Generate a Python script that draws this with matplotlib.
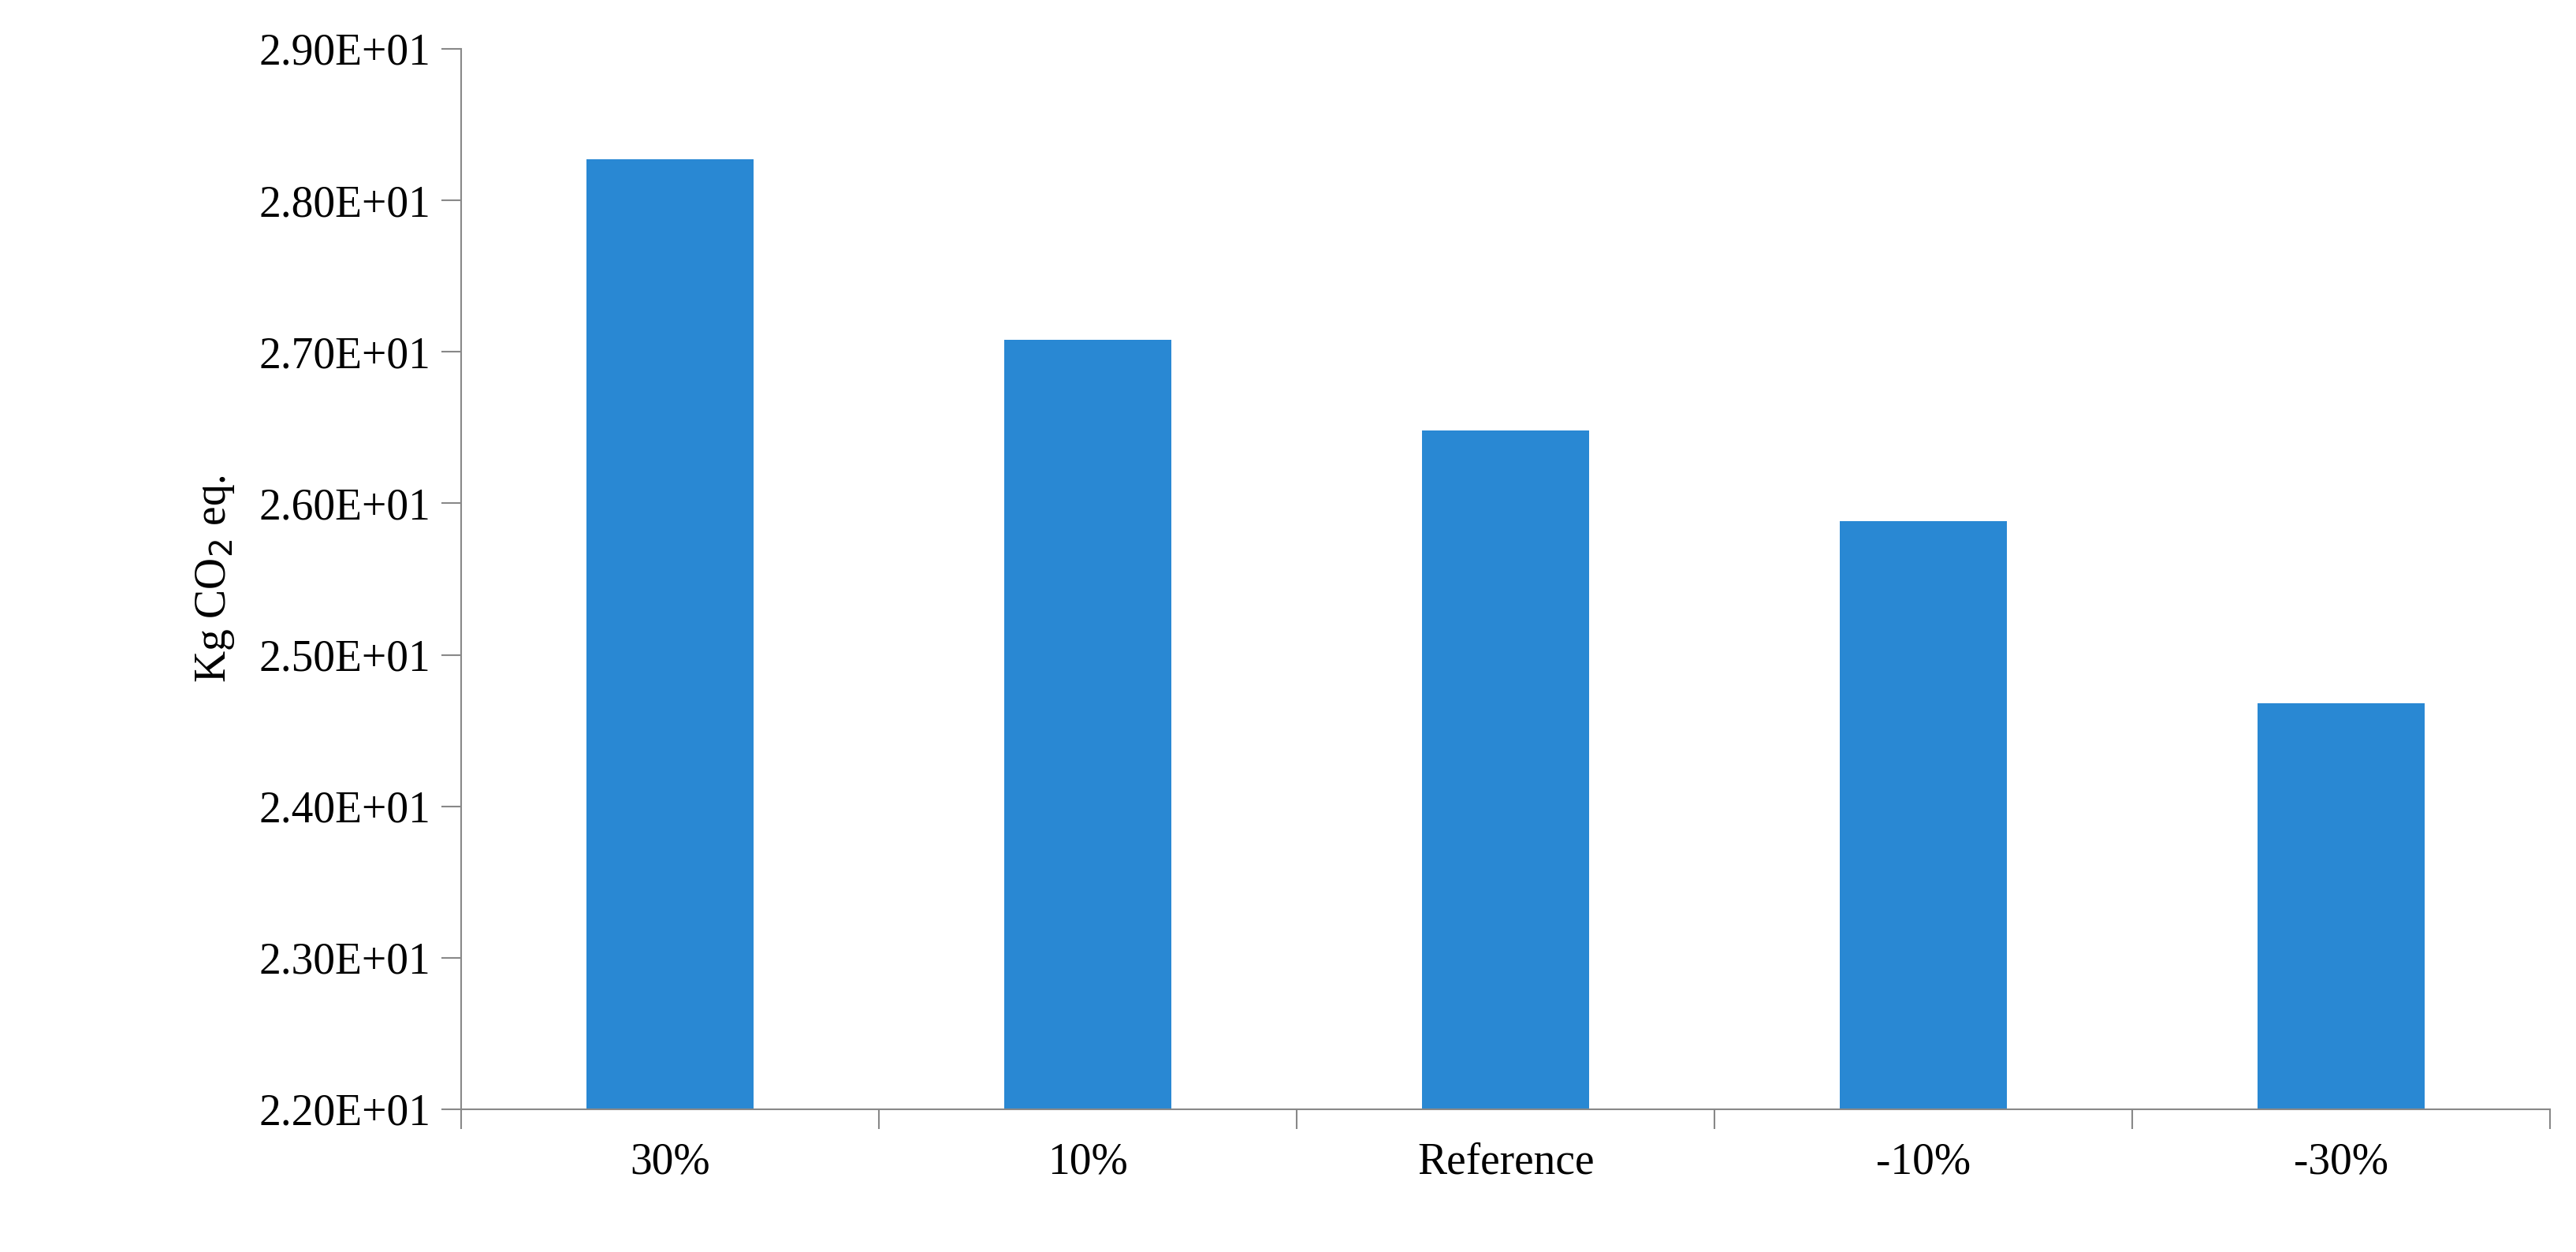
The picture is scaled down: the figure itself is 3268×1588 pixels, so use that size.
import matplotlib.pyplot as plt
import numpy as np

categories = ["30%", "10%", "Reference", "-10%", "-30%"]
values = [28.27, 27.08, 26.48, 25.88, 24.68]
yticks = [22.0, 23.0, 24.0, 25.0, 26.0, 27.0, 28.0, 29.0]

plt.rcParams["font.family"] = ["Liberation Serif", "DejaVu Serif"]

fig = plt.figure(figsize=(32.68, 15.88), dpi=100)
ax = fig.add_axes([0.179, 0.114, 0.811, 0.847])

x = np.arange(len(categories))
ax.bar(x, values, width=0.4, color="#2988d3", zorder=2)

ax.set_xlim(-0.5, len(categories) - 0.5)
ax.set_ylim(22.0, 29.0)
ax.set_yticks(yticks)
ax.set_yticklabels(["%.2fE+01" % (v / 10) for v in yticks], fontsize=40)
ax.set_xticks(x)
ax.set_xticklabels(categories, fontsize=40)
ax.set_xticks(np.arange(-0.5, len(categories)), minor=True)
ax.tick_params(axis="x", which="major", length=0, pad=30)
ax.tick_params(axis="x", which="minor", length=18, width=1.5, color="#888888")
ax.tick_params(axis="y", length=18, width=1.5, color="#888888", pad=10)
ax.set_ylabel("Kg CO$_2$ eq.", fontsize=40, labelpad=20)

for side in ["top", "right"]:
    ax.spines[side].set_visible(False)
for side in ["left", "bottom"]:
    ax.spines[side].set_color("#888888")
    ax.spines[side].set_linewidth(1.5)

fig.savefig("out.png", dpi=100)
